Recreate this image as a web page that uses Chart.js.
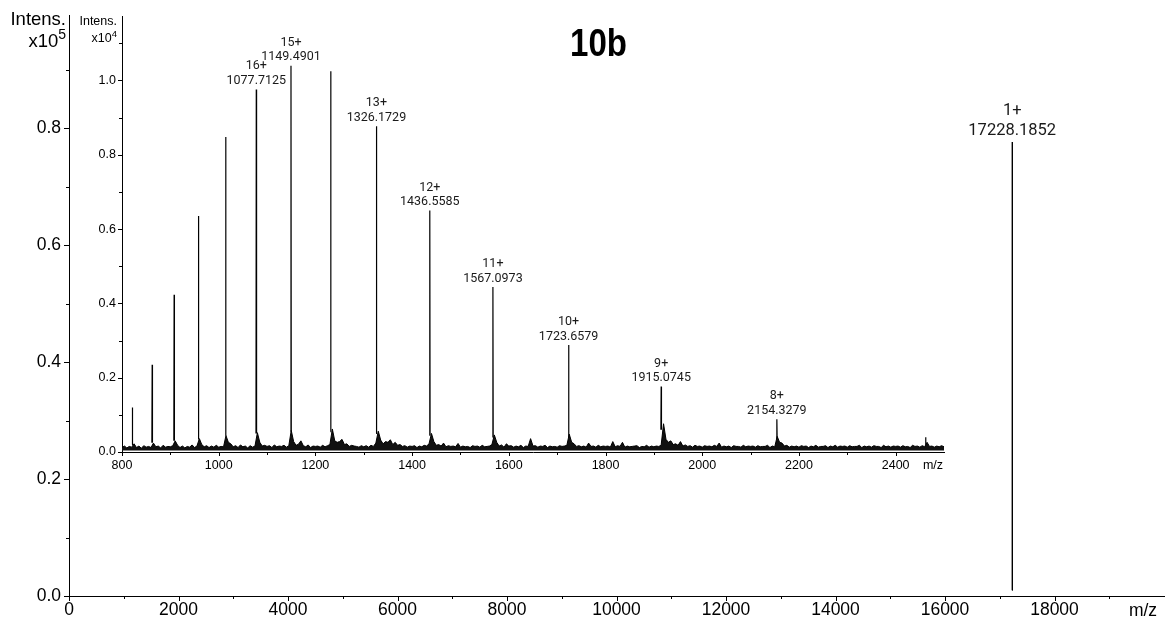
<!DOCTYPE html>
<html><head><meta charset="utf-8">
<script src="https://cdn.jsdelivr.net/npm/chart.js@4.4.1/dist/chart.umd.min.js"></script>
<style>
html,body{margin:0;padding:0;background:#fff;}
#wrap{position:relative;width:1168px;height:622px;overflow:hidden;background:#fff;}
#main{position:absolute;left:0;top:0;}
#inset{position:absolute;left:60px;top:0;}
</style></head><body>
<div id="wrap"><canvas id="main" width="1168" height="622"></canvas><canvas id="inset" width="900" height="480"></canvas></div>
<script>
// ---------------- DATA ----------------
// Main spectrum (Intens. x10^5)
const mainMz  = [17226.6, 17228.1852, 17230.4];
const mainInt = [0.010, 0.776, 0.011];
const mainXTicks = [0, 2000, 4000, 6000, 8000, 10000, 12000, 14000, 16000, 18000];
const mainXMinor = [1000, 3000, 5000, 7000, 9000, 11000, 13000, 15000, 17000, 19000];
const mainYTicks = [0, 0.2, 0.4, 0.6, 0.8];
const mainYMinor = [0.1, 0.3, 0.5, 0.7, 0.9];
const mainCharge = '1+';
const mainLabel = '17228.1852';

// Inset spectrum (Intens. x10^4)
const insetPeakMz   = [821.4, 862.4, 907.8, 958.1, 1014.4, 1077.7125, 1149.4901, 1231.6, 1326.1729, 1436.5585, 1567.0973, 1723.6579, 1915.0745, 2154.3279, 2462.0];
const insetPeakInt  = [0.120, 0.235, 0.423, 0.635, 0.848, 0.976, 1.040, 1.025, 0.877, 0.650, 0.444, 0.288, 0.176, 0.088, 0.040];
const insetPeakFoot = [0.020, 0.025, 0.030, 0.035, 0.045, 0.050, 0.055, 0.055, 0.050, 0.045, 0.040, 0.040, 0.060, 0.035, 0.020];
const insetPeakCharge = [null, null, null, null, null, '16+', '15+', null, '13+', '12+', '11+', '10+', '9+', '8+', null];
const insetPeakLabel  = [null, null, null, null, null, '1077.7125', '1149.4901', null, '1326.1729', '1436.5585', '1567.0973', '1723.6579', '1915.0745', '2154.3279', null];
// upper edge of the baseline noise band, read at 5 m/z steps from 800 to 2500
const noiseStartMz = 800;
const noiseStepMz = 5;
const noiseFloor = 0.004;
const insetNoise = [
 .012,.016,.011,.015,.013,.022,.012,.016,.010,.017,.013,.015,.012,.024,.014,.016,.011,.018,.013,.015,
 .014,.017,.030,.018,.012,.016,.011,.015,.013,.019,.012,.016,.036,.020,.014,.017,.012,.016,.013,.018,
 .013,.015,.014,.044,.026,.022,.014,.017,.012,.019,.014,.016,.011,.017,.013,.016,.052,.026,.016,.018,
 .015,.017,.012,.019,.014,.016,.015,.018,.013,.017,.058,.028,.018,.021,.030,.017,.014,.019,.012,.016,
 .015,.016,.013,.018,.014,.017,.020,.062,.030,.026,.028,.034,.020,.022,.015,.018,.016,.015,.013,.017,
 .014,.017,.013,.018,.015,.024,.056,.032,.022,.028,.026,.033,.020,.026,.018,.020,.015,.017,.013,.016,
 .015,.017,.012,.016,.014,.018,.016,.022,.050,.028,.018,.020,.016,.024,.014,.017,.015,.016,.014,.023,
 .013,.016,.014,.015,.012,.017,.015,.016,.013,.018,.014,.015,.016,.020,.046,.026,.016,.019,.013,.022,
 .016,.017,.013,.016,.014,.018,.012,.016,.015,.036,.016,.017,.013,.016,.015,.018,.012,.016,.014,.015,
 .013,.017,.015,.016,.018,.048,.026,.022,.015,.017,.014,.016,.013,.024,.015,.016,.013,.018,.014,.016,
 .015,.016,.013,.028,.014,.017,.015,.026,.013,.016,.014,.015,.016,.017,.012,.015,.014,.018,.013,.016,
 .014,.016,.015,.018,.076,.034,.026,.030,.020,.022,.018,.028,.016,.019,.015,.017,.013,.018,.015,.016,
 .013,.017,.015,.016,.014,.018,.015,.024,.013,.016,.014,.016,.012,.017,.015,.015,.013,.018,.014,.016,
 .015,.016,.013,.017,.014,.015,.015,.018,.012,.016,.014,.042,.026,.024,.016,.018,.013,.016,.014,.016,
 .013,.017,.015,.016,.012,.016,.014,.018,.013,.015,.015,.017,.012,.016,.014,.018,.013,.016,.015,.016,
 .013,.017,.014,.015,.015,.018,.012,.016,.014,.016,.013,.017,.015,.015,.012,.018,.014,.016,.013,.016,
 .015,.016,.013,.017,.014,.015,.012,.018,.015,.016,.013,.017,.014,.026,.015,.016,.013,.016,.014,.017,
 .014
];
const insetXTicks = [800, 1000, 1200, 1400, 1600, 1800, 2000, 2200, 2400];
const insetXMinor = [900, 1100, 1300, 1500, 1700, 1900, 2100, 2300];
const insetYTicks = [0, 0.2, 0.4, 0.6, 0.8, 1.0];
const insetYMinor = [0.1, 0.3, 0.5, 0.7, 0.9, 1.1];

// --------------- BUILD POINTS ---------------
const mainPoints = mainMz.map((x, i) => ({x: x, y: mainInt[i]}));
const noisePoints = insetNoise.map((v, i) => ({x: noiseStartMz + i * noiseStepMz, y: v}));
const peakPoints = [];
insetPeakMz.forEach((mz, i) => {
  peakPoints.push({x: mz - 0.6, y: insetPeakFoot[i]});
  peakPoints.push({x: mz, y: insetPeakInt[i]});
  peakPoints.push({x: mz + 0.6, y: insetPeakFoot[i]});
  peakPoints.push({x: mz + 0.7, y: null});
});

const ARIAL = '"Liberation Sans", Arial, sans-serif';
const ANNO = 'Roboto, "Open Sans", sans-serif';

function drawTicks(chart, s) {
  const ctx = chart.ctx, xs = chart.scales.x, ys = chart.scales.y, ca = chart.chartArea;
  ctx.save();
  ctx.strokeStyle = '#000';
  ctx.lineWidth = 1;
  ctx.beginPath();
  const xb = Math.round(ca.bottom);
  s.xMajor.forEach(v => { const p = Math.round(xs.getPixelForValue(v)) + 0.5; ctx.moveTo(p, xb); ctx.lineTo(p, xb + s.xMajorLen); });
  s.xMinor.forEach(v => { const p = Math.round(xs.getPixelForValue(v)) + 0.5; ctx.moveTo(p, xb); ctx.lineTo(p, xb + s.xMinorLen); });
  const yl = Math.round(ca.left);
  s.yMajor.forEach(v => { const p = Math.round(ys.getPixelForValue(v)) + 0.5; ctx.moveTo(yl, p); ctx.lineTo(yl - s.yMajorLen, p); });
  s.yMinor.forEach(v => { const p = Math.round(ys.getPixelForValue(v)) + 0.5; ctx.moveTo(yl, p); ctx.lineTo(yl - s.yMinorLen, p); });
  ctx.stroke();
  ctx.restore();
}

function drawIntens(ctx, rightX, y1, y2, size, supSize, supRaise, exp) {
  ctx.save();
  ctx.fillStyle = '#000';
  ctx.textAlign = 'right';
  ctx.textBaseline = 'alphabetic';
  ctx.font = size + 'px ' + ARIAL;
  ctx.fillText('Intens.', rightX, y1);
  ctx.font = supSize + 'px ' + ARIAL;
  const w = ctx.measureText(exp).width;
  ctx.fillText(exp, rightX, y2 - supRaise);
  ctx.font = size + 'px ' + ARIAL;
  ctx.fillText('x10', rightX - w, y2);
  ctx.restore();
}

function zeroPad(s) { s.paddingLeft = 0; s.paddingRight = 0; s.paddingTop = 0; s.paddingBottom = 0; }

// --------------- MAIN CHART ---------------
const mainPlugin = {
  id: 'mainDeco',
  afterDraw(chart) {
    const ctx = chart.ctx, xs = chart.scales.x, ys = chart.scales.y;
    drawTicks(chart, {xMajor: mainXTicks, xMinor: mainXMinor, xMajorLen: 5, xMinorLen: 3,
                      yMajor: mainYTicks, yMinor: mainYMinor, yMajorLen: 5, yMinorLen: 3});
    drawIntens(ctx, 66, 25, 47, 18.5, 14, 8, '5');
    // title
    ctx.save();
    ctx.fillStyle = '#000';
    ctx.translate(598.5, 46);
    ctx.scale(0.87, 1);
    ctx.font = 'bold 38px ' + ARIAL;
    ctx.textAlign = 'center';
    ctx.textBaseline = 'middle';
    ctx.fillText('10b', 0, 0);
    ctx.restore();
    // m/z
    ctx.save();
    ctx.fillStyle = '#000';
    ctx.font = '17.5px ' + ARIAL;
    ctx.textAlign = 'center';
    ctx.textBaseline = 'middle';
    ctx.fillText('m/z', 1143, 611);
    // peak annotation
    const px = xs.getPixelForValue(mainMz[1]);
    const pt = ys.getPixelForValue(mainInt[1]);
    ctx.fillStyle = '#1a1a1a';
    ctx.font = '16.5px ' + ANNO;
    ctx.fillText(mainLabel, px, pt - 11.5);
    ctx.fillText(mainCharge, px, pt - 31);
    ctx.restore();
  }
};

new Chart(document.getElementById('main'), {
  type: 'line',
  data: { datasets: [{ data: mainPoints, borderColor: '#000', borderWidth: 1.4, pointRadius: 0, tension: 0, fill: false }] },
  options: {
    responsive: false, animation: false, devicePixelRatio: 1,
    layout: { padding: { left: 0, top: 15, right: 4, bottom: 0 } },
    plugins: { legend: { display: false }, tooltip: { enabled: false }, title: { display: false } },
    scales: {
      x: {
        type: 'linear', min: 0, max: 20000,
        grid: { display: false, drawTicks: false },
        border: { display: true, color: '#000', width: 1 },
        ticks: { autoSkip: false, maxRotation: 0, minRotation: 0, padding: 4, color: '#000',
                 font: { family: ARIAL, size: 17.5 }, callback: v => String(v) },
        afterBuildTicks: s => { s.ticks = mainXTicks.map(v => ({value: v})); },
        afterFit: s => { s.height = 26; zeroPad(s); }
      },
      y: {
        type: 'linear', min: 0, max: 0.9932,
        grid: { display: false, drawTicks: false },
        border: { display: true, color: '#000', width: 1 },
        ticks: { autoSkip: false, padding: 8, color: '#000',
                 font: { family: ARIAL, size: 17.5 }, callback: v => Number(v).toFixed(1) },
        afterBuildTicks: s => { s.ticks = mainYTicks.map(v => ({value: v})); },
        afterFit: s => { s.width = 69; zeroPad(s); }
      }
    }
  },
  plugins: [mainPlugin]
});

// --------------- INSET CHART ---------------
const insetPlugin = {
  id: 'insetDeco',
  afterDraw(chart) {
    const ctx = chart.ctx, xs = chart.scales.x, ys = chart.scales.y;
    drawTicks(chart, {xMajor: insetXTicks, xMinor: insetXMinor, xMajorLen: 4, xMinorLen: 3,
                      yMajor: insetYTicks, yMinor: insetYMinor, yMajorLen: 4, yMinorLen: 3});
    drawIntens(ctx, 57, 25, 42, 12.5, 9.5, 5.5, '4');
    ctx.save();
    ctx.fillStyle = '#000';
    ctx.font = '12.5px ' + ARIAL;
    ctx.textAlign = 'center';
    ctx.textBaseline = 'middle';
    ctx.fillText('m/z', 873, 466);
    ctx.fillStyle = '#1a1a1a';
    ctx.font = '12.5px ' + ANNO;
    insetPeakMz.forEach((mz, i) => {
      if (!insetPeakLabel[i]) return;
      const px = xs.getPixelForValue(mz);
      const pt = ys.getPixelForValue(insetPeakInt[i]);
      ctx.fillText(insetPeakLabel[i], px, pt - 8.5);
      ctx.fillText(insetPeakCharge[i], px, pt - 8.5 - 14.6);
    });
    ctx.restore();
  }
};

new Chart(document.getElementById('inset'), {
  type: 'line',
  data: { datasets: [
    { data: noisePoints, borderColor: '#000', borderWidth: 1, backgroundColor: '#111',
      fill: { value: noiseFloor }, pointRadius: 0, tension: 0 },
    { data: peakPoints, borderColor: '#000', borderWidth: 1.2, pointRadius: 0, tension: 0, fill: false, spanGaps: false }
  ] },
  options: {
    responsive: false, animation: false, devicePixelRatio: 1,
    layout: { padding: { left: 0, top: 16, right: 16, bottom: 0 } },
    plugins: { legend: { display: false }, tooltip: { enabled: false }, title: { display: false } },
    scales: {
      x: {
        type: 'linear', min: 800, max: 2500,
        grid: { display: false, drawTicks: false },
        border: { display: true, color: '#000', width: 1 },
        ticks: { autoSkip: false, maxRotation: 0, minRotation: 0, padding: 6, color: '#000',
                 font: { family: ARIAL, size: 12.5 }, callback: v => String(v) },
        afterBuildTicks: s => { s.ticks = insetXTicks.map(v => ({value: v})); },
        afterFit: s => { s.height = 28; zeroPad(s); }
      },
      y: {
        type: 'linear', min: 0, max: 1.1736,
        grid: { display: false, drawTicks: false },
        border: { display: true, color: '#000', width: 1 },
        ticks: { autoSkip: false, padding: 6, color: '#000',
                 font: { family: ARIAL, size: 12.5 }, callback: v => Number(v).toFixed(1) },
        afterBuildTicks: s => { s.ticks = insetYTicks.map(v => ({value: v})); },
        afterFit: s => { s.width = 62; zeroPad(s); }
      }
    }
  },
  plugins: [insetPlugin]
});
</script>
</body></html>
